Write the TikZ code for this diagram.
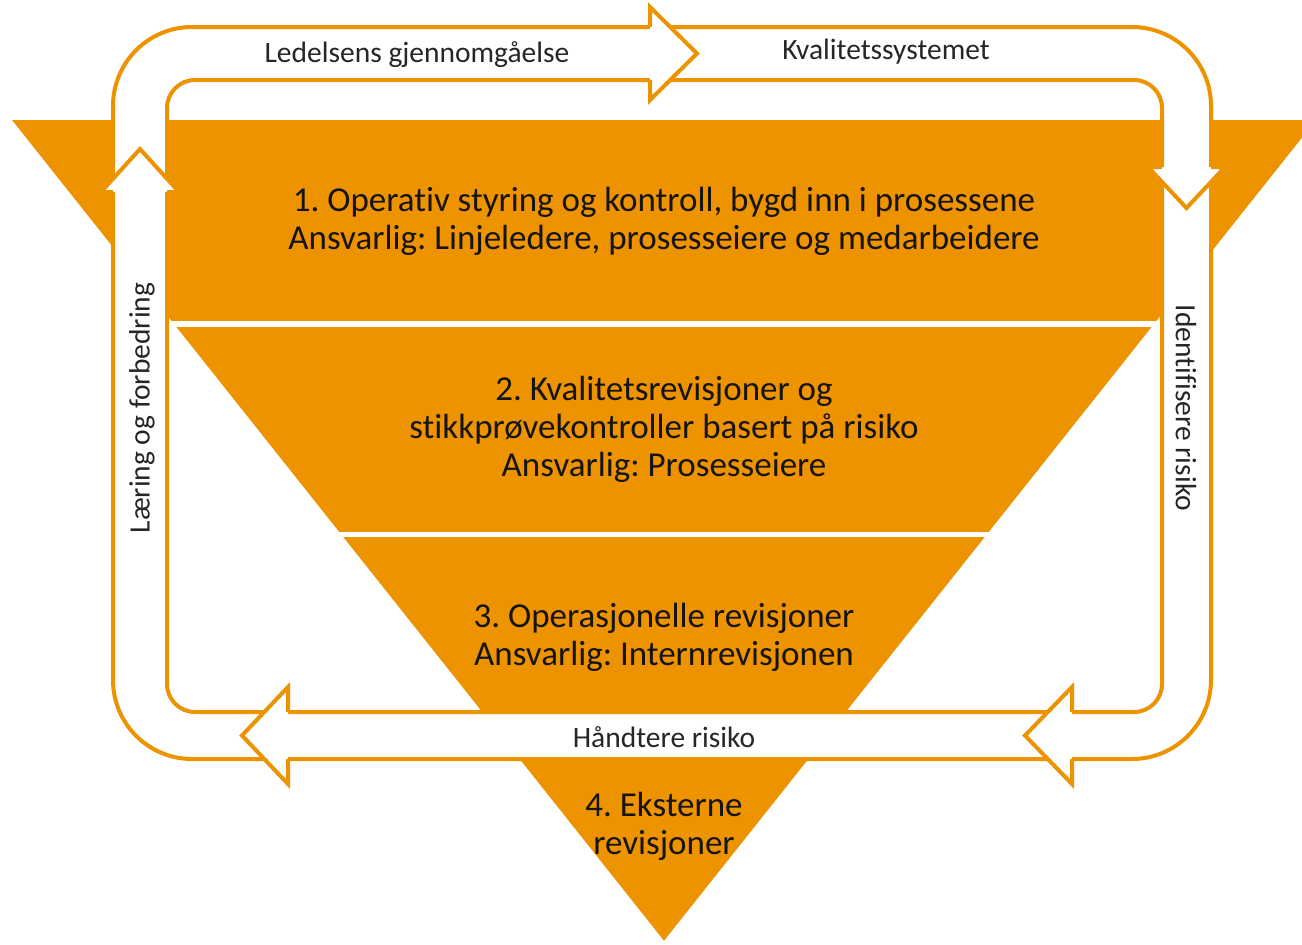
\documentclass[tikz,border=0pt]{standalone}
\usepackage{fontspec}
\setmainfont{Carlito}[RawFeature=-liga]
\definecolor{amber}{RGB}{237,147,0}
\definecolor{ink}{RGB}{22,20,18}
\definecolor{labelink}{RGB}{38,38,38}
\frenchspacing
\begin{document}
\begin{tikzpicture}[x=1pt,y=-1pt,
  tiertext/.style={text=ink,align=center,font=\fontsize{35}{38}\selectfont},
  looptext/.style={text=labelink,font=\fontsize{29.5}{32}\selectfont},
  ring/.style={draw=amber,line width=4pt},
  head/.style={fill=white,draw=amber,line width=4pt,line join=miter}]
\useasboundingbox (0,0) rectangle (1302,945);
\clip (0,0) rectangle (1302,945);

% inverted triangle, split into four tiers by white gaps
\fill[amber] (12,120) -- (1316,120) -- (664,940.7) -- cycle;
\fill[white] (0,321) rectangle (1302,327);
\fill[white] (0,532) rectangle (1302,537);
\fill[white] (0,733) rectangle (1302,739);

% the feedback loop band
\fill[white,even odd rule]
  [rounded corners=79pt] (113,27) rectangle (1211,759)
  [rounded corners=28pt] (167,80) rectangle (1162,712);
\draw[ring,rounded corners=79pt] (113,27) rectangle (1211,759);
\draw[ring,rounded corners=28pt] (167,80) rectangle (1162,712);

% arrow heads along the loop (open outlines so the shaft stays joined)
\coordinate (tipTop)   at (697,53.5);
\coordinate (tipRight) at (1186.5,208);
\coordinate (tipBR)    at (1025,735.5);
\coordinate (tipBL)    at (242,735.5);
\coordinate (tipLeft)  at (140,149);
\path[head] (650,27) -- (650,7) -- (tipTop) -- (650,100) -- (650,80);
\path[head] (1162,167) -- (1148,167) -- (tipRight) -- (1225,167) -- (1211,167);
\path[head] (1072,712) -- (1072,687) -- (tipBR) -- (1072,784) -- (1072,759);
\path[head] (288,712) -- (288,687) -- (tipBL) -- (288,784) -- (288,759);
\path[head] (113,192) -- (101,192) -- (tipLeft) -- (179,192) -- (167,192);

% tier texts
\node[tiertext] (tier1) at (664,221)
  {1. Operativ styring og kontroll, bygd inn i prosessene\\Ansvarlig: Linjeledere, prosesseiere og medarbeidere};
\node[tiertext] (tier2) at (664,429)
  {2. Kvalitetsrevisjoner og\\stikkprøvekontroller basert på risiko\\Ansvarlig: Prosesseiere};
\node[tiertext] (tier3) at (664,637)
  {3. Operasjonelle revisjoner\\Ansvarlig: Internrevisjonen};
\node[tiertext] (tier4) at (664,826)
  {4. Eksterne\\revisjoner};

% loop labels
\node[looptext] (review)   at (417,55)  {Ledelsens gjennomgåelse};
\node[looptext] (quality)  at (886,52)  {Kvalitetssystemet};
\node[looptext,rotate=-90] (identify) at (1186,408) {Identifisere risiko};
\node[looptext] (handle)   at (664,737) {Håndtere risiko};
\node[looptext,rotate=90]  (learn)    at (142,408)  {Læring og forbedring};
\end{tikzpicture}
\end{document}
